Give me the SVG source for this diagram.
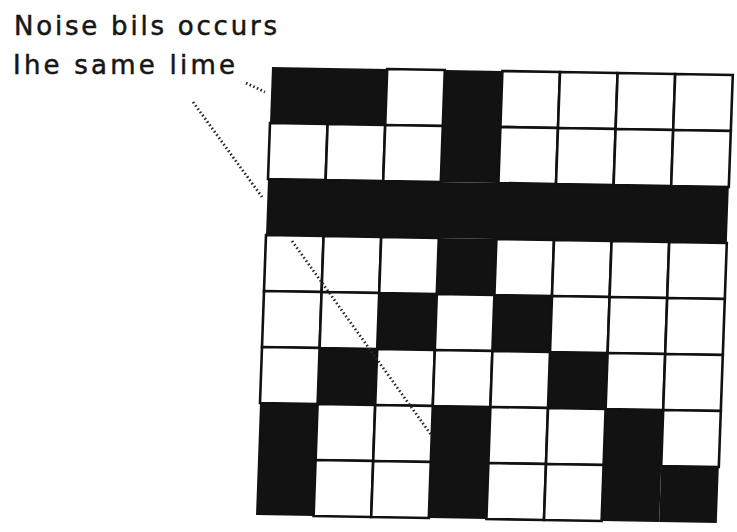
<svg xmlns="http://www.w3.org/2000/svg" width="737" height="532" viewBox="0 0 737 532">
<style>
.b{fill:#121212}
.w{fill:#fff;stroke:#111;stroke-width:2.6;vector-effect:non-scaling-stroke}
.dot{fill:none;stroke:#2a2a2a;stroke-width:2.8;stroke-dasharray:1.6 2.4}
.lbl{font-family:"DejaVu Sans","Liberation Sans",sans-serif;font-size:26px;fill:#161616;stroke:#161616;stroke-width:0.5}
</style>
<rect width="737" height="532" fill="#fff"/>
<g id="label" class="lbl">
<text x="14" y="35" textLength="263" lengthAdjust="spacing">Noise bils occurs</text>
<text x="13" y="74" textLength="222" lengthAdjust="spacing">Ihe same lime</text>
</g>
<g id="grid" transform="matrix(57.6 1 -2 56 272 67)">
<g id="black-cells">
<rect class="b" x="0" y="0" width="2" height="1"/>
<rect class="b" x="3" y="0" width="1" height="2"/>
<rect class="b" x="0" y="2" width="8" height="1"/>
<rect class="b" x="3" y="3" width="1" height="1"/>
<rect class="b" x="2" y="4" width="1" height="1"/>
<rect class="b" x="4" y="4" width="1" height="1"/>
<rect class="b" x="1" y="5" width="1" height="1"/>
<rect class="b" x="5" y="5" width="1" height="1"/>
<rect class="b" x="0" y="6" width="1" height="2"/>
<rect class="b" x="3" y="6" width="1" height="2"/>
<rect class="b" x="6" y="6" width="1" height="2"/>
<rect class="b" x="7" y="7" width="1" height="1"/>
</g>
<g id="white-cells">
<rect class="w" x="2" y="0" width="1" height="1"/>
<rect class="w" x="4" y="0" width="1" height="1"/>
<rect class="w" x="5" y="0" width="1" height="1"/>
<rect class="w" x="6" y="0" width="1" height="1"/>
<rect class="w" x="7" y="0" width="1" height="1"/>
<rect class="w" x="0" y="1" width="1" height="1"/>
<rect class="w" x="1" y="1" width="1" height="1"/>
<rect class="w" x="2" y="1" width="1" height="1"/>
<rect class="w" x="4" y="1" width="1" height="1"/>
<rect class="w" x="5" y="1" width="1" height="1"/>
<rect class="w" x="6" y="1" width="1" height="1"/>
<rect class="w" x="7" y="1" width="1" height="1"/>
<rect class="w" x="0" y="3" width="1" height="1"/>
<rect class="w" x="1" y="3" width="1" height="1"/>
<rect class="w" x="2" y="3" width="1" height="1"/>
<rect class="w" x="4" y="3" width="1" height="1"/>
<rect class="w" x="5" y="3" width="1" height="1"/>
<rect class="w" x="6" y="3" width="1" height="1"/>
<rect class="w" x="7" y="3" width="1" height="1"/>
<rect class="w" x="0" y="4" width="1" height="1"/>
<rect class="w" x="1" y="4" width="1" height="1"/>
<rect class="w" x="3" y="4" width="1" height="1"/>
<rect class="w" x="5" y="4" width="1" height="1"/>
<rect class="w" x="6" y="4" width="1" height="1"/>
<rect class="w" x="7" y="4" width="1" height="1"/>
<rect class="w" x="0" y="5" width="1" height="1"/>
<rect class="w" x="2" y="5" width="1" height="1"/>
<rect class="w" x="3" y="5" width="1" height="1"/>
<rect class="w" x="4" y="5" width="1" height="1"/>
<rect class="w" x="6" y="5" width="1" height="1"/>
<rect class="w" x="7" y="5" width="1" height="1"/>
<rect class="w" x="1" y="6" width="1" height="1"/>
<rect class="w" x="2" y="6" width="1" height="1"/>
<rect class="w" x="4" y="6" width="1" height="1"/>
<rect class="w" x="5" y="6" width="1" height="1"/>
<rect class="w" x="7" y="6" width="1" height="1"/>
<rect class="w" x="1" y="7" width="1" height="1"/>
<rect class="w" x="2" y="7" width="1" height="1"/>
<rect class="w" x="4" y="7" width="1" height="1"/>
<rect class="w" x="5" y="7" width="1" height="1"/>
</g>
</g>
<g id="connectors" class="dot">
<line x1="246" y1="83" x2="265" y2="92"/>
<line x1="193" y1="102" x2="262" y2="197"/>
<line x1="292" y1="241" x2="432" y2="436"/>
</g>
</svg>
